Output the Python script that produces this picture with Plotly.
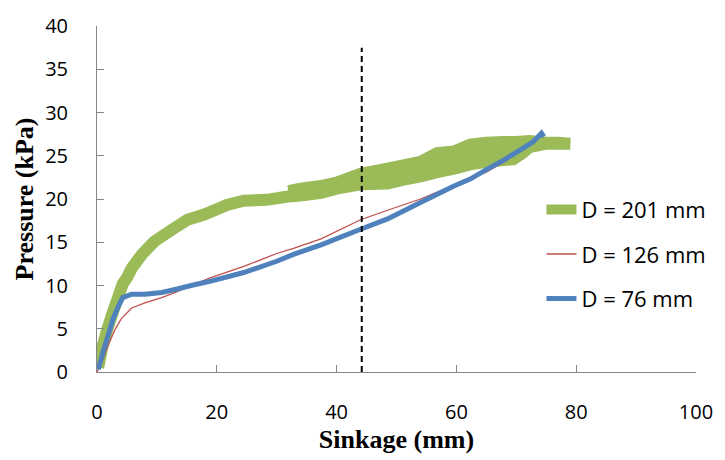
import plotly.graph_objects as go

# ---- data ----
# D = 201 mm: rising branch, then the wide band traced along its lower edge, back along its upper edge,
# and once more through its middle
d201_x = [0.2, 0.8, 1.7, 2.6, 3.5, 4.3, 5.0, 5.8, 7.5, 9.6, 12.4, 15.1, 17.9, 21.7, 24.5, 28.3, 31.1,
          32.0, 34.0, 37.4, 40.0, 44.0, 48.5, 51.0, 54.0, 56.8, 59.6, 62.3, 65.0, 67.9, 69.5, 71.0, 72.2,
          75.0, 77.0, 79.0,
          77.0, 75.0, 72.2, 70.0, 67.9, 65.0, 62.3, 59.6, 56.8, 54.0, 48.5, 44.0, 40.0, 37.4, 34.0, 32.0,
          36.0, 40.0, 44.0, 48.5, 54.0, 56.8, 59.6, 62.3, 65.0, 67.9, 70.0, 72.2, 74.0]
d201_y = [0.5, 2.6, 4.9, 6.8, 8.6, 10.2, 10.9, 12.0, 13.6, 15.1, 16.4, 17.6, 18.2, 19.3, 19.8, 19.9, 20.2,
          20.3, 20.4, 20.7, 21.2, 21.7, 21.8, 22.2, 22.6, 23.1, 23.5, 24.0, 24.3, 24.5, 24.6, 25.3, 26.0,
          26.4, 26.4, 26.4,
          26.5, 26.5, 26.7, 26.6, 26.6, 26.5, 26.3, 25.5, 25.3, 24.3, 23.5, 22.9, 21.9, 21.5, 21.2, 20.9,
          21.0, 21.5, 22.3, 22.65, 23.45, 24.2, 24.5, 25.15, 25.4, 25.55, 25.65, 26.35, 26.5]

d126_x = [0.0, 0.8, 1.8, 3.0, 4.1, 5.8, 8.0, 10.8, 13.4, 15.7, 19.0, 24.5, 30.0, 32.8, 37.4, 44.0,
          48.5, 54.0, 59.6, 63.0, 65.0, 67.0, 68.5]
d126_y = [0.0, 1.1, 3.0, 4.9, 6.2, 7.4, 8.0, 8.6, 9.3, 10.0, 10.9, 12.2, 13.7, 14.3, 15.4, 17.6,
          18.7, 20.0, 21.6, 22.6, 23.1, 23.9, 24.5]

d76_x = [0.2, 1.0, 1.8, 2.6, 3.5, 4.3, 5.8, 8.0, 10.8, 13.4, 15.7, 19.0, 24.5, 30.0, 32.8, 37.4, 44.0,
         48.5, 54.0, 59.6, 62.3, 65.0, 67.9, 70.0, 72.8, 74.2, 74.6]
d76_y = [0.3, 2.3, 4.1, 6.0, 7.5, 8.6, 9.0, 9.0, 9.2, 9.6, 10.0, 10.5, 11.5, 12.8, 13.6, 14.7, 16.5,
         17.7, 19.6, 21.5, 22.3, 23.4, 24.5, 25.4, 26.6, 27.6, 27.2]

marker_x = [44.2, 44.2]
marker_y = [0, 37.5]

series_names = ["D = 201 mm", "D = 126 mm", "D = 76 mm"]
x_ticks = [0, 20, 40, 60, 80, 100]
y_ticks = [0, 5, 10, 15, 20, 25, 30, 35, 40]

fig = go.Figure()
fig.add_trace(go.Scatter(x=d201_x, y=d201_y, mode="lines", name=series_names[0],
                         line=dict(color="#9BBB59", width=12, simplify=False),
                         legendgroup="a"))
fig.add_trace(go.Scatter(x=d126_x, y=d126_y, mode="lines", name=series_names[1],
                         line=dict(color="#C0504D", width=1.3, simplify=False), legendgroup="b"))
fig.add_trace(go.Scatter(x=d76_x, y=d76_y, mode="lines", name=series_names[2],
                         line=dict(color="#4F81BD", width=5, simplify=False), legendgroup="c"))
fig.add_trace(go.Scatter(x=marker_x, y=marker_y, mode="lines", showlegend=False,
                         line=dict(color="black", width=2, dash="6px,4px"), hoverinfo="skip"))

axis_common = dict(showline=True, linecolor="#868686", linewidth=1, ticks="inside",
                   tickcolor="#868686", ticklen=7, showgrid=False, zeroline=False,
                   tickfont=dict(family="Open Sans", size=20, color="black"))

fig.update_xaxes(range=[0, 100], tickvals=x_ticks, ticklabelstandoff=22,
                 title=dict(text="Sinkage (mm)", standoff=5,
                            font=dict(family="Liberation Serif", size=26, color="black", weight="bold")),
                 **axis_common)
fig.update_yaxes(range=[0, 40], tickvals=y_ticks, ticklabelstandoff=24,
                 title=dict(text="Pressure (kPa)", standoff=4,
                            font=dict(family="Liberation Serif", size=26, color="black", weight="bold")),
                 **axis_common)

fig.update_layout(
    width=725, height=460,
    margin=dict(l=97, r=24, t=20, b=87),
    paper_bgcolor="white", plot_bgcolor="white",
    showlegend=True,
    legend=dict(x=0.742, y=0.53, xanchor="left", yanchor="top",
                font=dict(family="Open Sans", size=22, color="black"),
                bgcolor="rgba(0,0,0,0)", tracegroupgap=13),
)

fig.write_html("out.html")
